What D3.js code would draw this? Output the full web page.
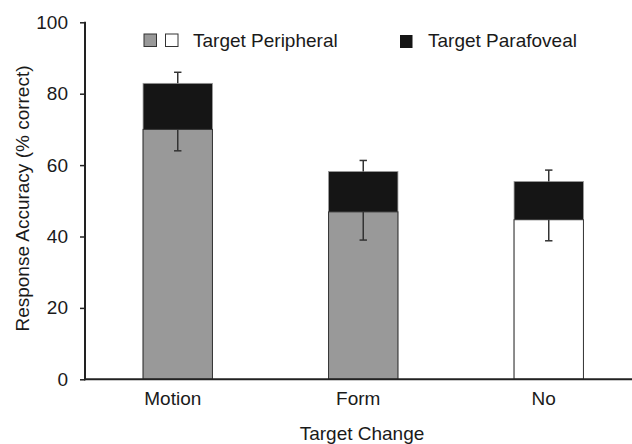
<!DOCTYPE html>
<html>
<head>
<meta charset="utf-8">
<script src="https://cdn.jsdelivr.net/npm/d3@7"></script>
<style>
  body { margin: 0; background: #fff; }
  svg text { font-family: Arial, "Liberation Sans", sans-serif; fill: #1a1a1a; }
</style>
</head>
<body>
<svg id="chart"></svg>
<script>
// values (% correct)
const categories = ['Motion', 'Form', 'No'];
const parafoveal = [82.9, 58.2, 55.4];
const parafovealErr = [3.1, 3.1, 3.2];
const peripheral = [70.0, 46.9, 44.7];
const peripheralErr = [6.0, 7.9, 5.9];
const peripheralFill = ['#999999', '#999999', '#ffffff'];
const yTicks = [0, 20, 40, 60, 80, 100];

const width = 632, height = 444;
const margin = {left: 85, top: 22.3, bottom: 64.7};

const svg = d3.select('#chart').attr('width', width).attr('height', height);

const x = d3.scaleBand()
    .domain(categories)
    .range([margin.left, margin.left + 3 * 185.5])
    .paddingInner(0.626)
    .paddingOuter(0.313);

const y = d3.scaleLinear()
    .domain([0, 100])
    .range([height - margin.bottom, margin.top]);

const fs = '19px';

// parafoveal (black) bars sit behind the peripheral ones
svg.append('g').selectAll('rect')
    .data(categories)
    .enter().append('rect')
    .attr('x', d => x(d))
    .attr('y', (d, i) => y(parafoveal[i]))
    .attr('width', x.bandwidth())
    .attr('height', (d, i) => y(0) - y(parafoveal[i]))
    .attr('fill', '#151515')
    .attr('stroke', '#9a9a9a')
    .attr('stroke-width', 0.8);

svg.append('g').selectAll('rect')
    .data(categories)
    .enter().append('rect')
    .attr('x', d => x(d))
    .attr('y', (d, i) => y(peripheral[i]))
    .attr('width', x.bandwidth())
    .attr('height', (d, i) => y(0) - y(peripheral[i]))
    .attr('fill', (d, i) => peripheralFill[i])
    .attr('stroke', '#333')
    .attr('stroke-width', 1);

// error bars: up from the parafoveal top, down from the peripheral top
function errBars(vals, errs, dir) {
    const g = svg.append('g').attr('stroke', '#333').attr('stroke-width', 1.5);
    categories.forEach((c, i) => {
        const cx = x(c) + x.bandwidth() / 2;
        const end = y(vals[i] + dir * errs[i]);
        g.append('line').attr('x1', cx).attr('x2', cx)
            .attr('y1', y(vals[i])).attr('y2', end);
        g.append('line').attr('x1', cx - 3.7).attr('x2', cx + 3.7)
            .attr('y1', end).attr('y2', end);
    });
}
errBars(parafoveal, parafovealErr, 1);
errBars(peripheral, peripheralErr, -1);

// axes
const yAxis = svg.append('g')
    .attr('transform', `translate(${margin.left},0)`)
    .call(d3.axisLeft(y).tickValues(yTicks).tickSize(5).tickPadding(12));
yAxis.select('.domain').remove();
yAxis.selectAll('.tick line').attr('stroke', '#222').attr('stroke-width', 1.5);
yAxis.selectAll('.tick text').style('font-size', fs).attr('fill', '#1a1a1a')
    .attr('font-family', 'Arial, "Liberation Sans", sans-serif');

svg.append('line')
    .attr('x1', margin.left).attr('x2', margin.left)
    .attr('y1', y(100) - 0.5).attr('y2', y(0) + 1)
    .attr('stroke', '#222').attr('stroke-width', 2);
svg.append('line')
    .attr('x1', margin.left - 1).attr('x2', width)
    .attr('y1', y(0)).attr('y2', y(0))
    .attr('stroke', '#222').attr('stroke-width', 2);

svg.append('g').selectAll('text')
    .data(categories)
    .enter().append('text')
    .attr('x', d => x(d) + x.bandwidth() / 2 - 5)
    .attr('y', 405)
    .attr('text-anchor', 'middle')
    .style('font-size', fs)
    .text(d => d);

svg.append('text')
    .attr('x', 362).attr('y', 440)
    .attr('text-anchor', 'middle')
    .style('font-size', fs)
    .text('Target Change');

svg.append('text')
    .attr('transform', 'translate(29,198.5) rotate(-90)')
    .attr('text-anchor', 'middle')
    .style('font-size', fs)
    .text('Response Accuracy (% correct)');

// legend
const legend = svg.append('g');
legend.append('rect').attr('x', 144).attr('y', 34).attr('width', 12.5).attr('height', 12.5)
    .attr('fill', '#999999').attr('stroke', '#333').attr('stroke-width', 1);
legend.append('rect').attr('x', 165.5).attr('y', 34).attr('width', 12.5).attr('height', 12.5)
    .attr('fill', '#fff').attr('stroke', '#333').attr('stroke-width', 1);
legend.append('text').attr('x', 193).attr('y', 46.5).style('font-size', fs).text('Target Peripheral');
legend.append('rect').attr('x', 400).attr('y', 35).attr('width', 12.5).attr('height', 13)
    .attr('fill', '#151515');
legend.append('text').attr('x', 428).attr('y', 46.5).style('font-size', fs).text('Target Parafoveal');
</script>
</body>
</html>
